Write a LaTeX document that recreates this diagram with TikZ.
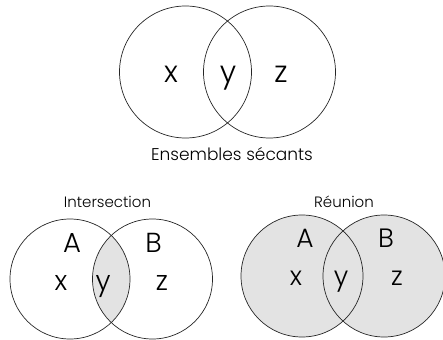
\documentclass[tikz,border=0pt]{standalone}
\usepackage{fontspec}
\setmainfont{Poppins Light}
\begin{document}
\begin{tikzpicture}[x=1pt,y=-1pt,
  ring/.style={draw=black!85, line width=0.7pt},
  shade/.style={fill=black!11},
  title/.style={anchor=base, inner sep=0pt, font=\fontsize{15}{17}\selectfont},
  caption/.style={anchor=base, inner sep=0pt, font=\fontsize{17}{19}\selectfont},
  bigletter/.style={anchor=base, inner sep=0pt, font=\fontsize{30}{33}\selectfont},
  letter/.style={anchor=base, inner sep=0pt, font=\fontsize{27.5}{30}\selectfont},
  uletter/.style={anchor=base, inner sep=0pt, font=\fontsize{26.5}{29}\selectfont}]
\useasboundingbox (0,0) rectangle (443,339);
\clip (0,0) rectangle (443,339);

% circle centres
\coordinate (tl) at (185.5,72);
\coordinate (tr) at (269.5,72);
\coordinate (il) at (70,279);
\coordinate (ir) at (152.5,279);
\coordinate (ul) at (302,276);
\coordinate (ur) at (384,276);

% secant sets
\draw[ring] (tl) circle[radius=66pt];
\draw[ring] (tr) circle[radius=66pt];
\node[bigletter] (tx) at (171,83) {x};
\node[bigletter] (ty) at (228,83) {y};
\node[bigletter] (tz) at (281,83) {z};
\node[caption] (cap) at (232,160) {Ensembles sécants};

% intersection
\begin{scope}
  \clip (il) circle[radius=60pt];
  \fill[shade] (ir) circle[radius=60pt];
\end{scope}
\draw[ring] (il) circle[radius=60pt];
\draw[ring] (ir) circle[radius=60pt];
\node[title] (inter) at (107.5,207.5) {Intersection};
\node[letter] (iA) at (72,252) {A};
\node[letter] (iB) at (153.5,252) {B};
\node[letter] (ix) at (61,290) {x};
\node[letter] (iy) at (103,290) {y};
\node[letter] (iz) at (162,290) {z};

% union
\fill[shade] (ul) circle[radius=61pt];
\fill[shade] (ur) circle[radius=61pt];
\draw[ring] (ul) circle[radius=61pt];
\draw[ring] (ur) circle[radius=61pt];
\node[title] (reun) at (344,207.5) {Réunion};
\node[uletter] (uA) at (305,247) {A};
\node[uletter] (uB) at (386,247) {B};
\node[uletter] (ux) at (296,285) {x};
\node[uletter] (uy) at (341,285) {y};
\node[uletter] (uz) at (397,285) {z};
\end{tikzpicture}
\end{document}
